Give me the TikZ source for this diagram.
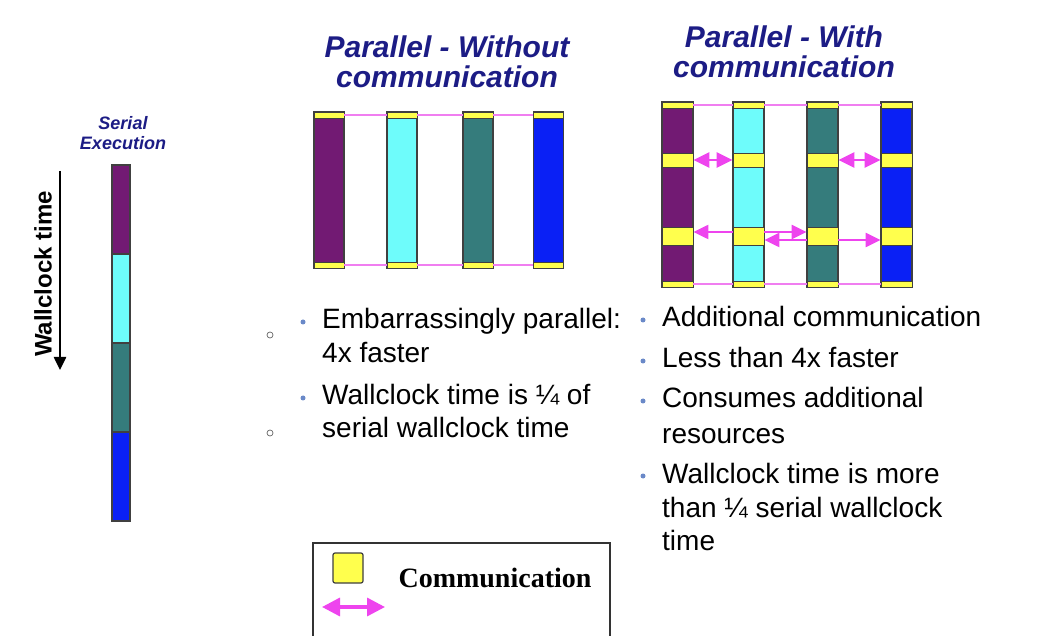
\documentclass[tikz,border=0pt]{standalone}
\usepackage{fontspec}
\setmainfont{Liberation Sans}
\newfontfamily\legendfont{Liberation Serif}
\usetikzlibrary{arrows.meta,positioning}
\definecolor{procA}{HTML}{721A73}
\definecolor{procB}{HTML}{6EFCFB}
\definecolor{procC}{HTML}{357C7C}
\definecolor{procD}{HTML}{0A20F5}
\definecolor{comm}{HTML}{FFFF4D}
\definecolor{msg}{HTML}{EE44EE}
\definecolor{msgline}{HTML}{F07EF0}
\definecolor{navy}{HTML}{1C1C85}
\definecolor{dot}{HTML}{6A89C8}
\tikzset{
  bar/.style={draw=black!75, line width=1.3pt, inner sep=0pt, minimum width=30pt},
  band/.style={fill=comm, draw=black!75, line width=0.9pt, inner sep=0pt, minimum width=30pt},
  sync/.style={draw=msgline, line width=1.8pt},
  msgarrow/.style={draw=msg, line width=2.4pt, -{Triangle[length=15pt,width=14pt]}},
  dblarrow/.style={draw=msg, line width=2.6pt, {Triangle[length=16pt,width=15pt]}-{Triangle[length=16pt,width=15pt]}},
  title/.style={text=navy, align=center, font=\fontsize{30}{30}\selectfont\bfseries\itshape},
  item/.style={anchor=base west, inner sep=0pt, font=\fontsize{28}{33}\selectfont},
  bul/.style={circle, fill=dot, inner sep=0pt, minimum size=5pt},
  hollow/.style={circle, draw=black!60, line width=0.7pt, inner sep=0pt, minimum size=6pt}
}
\begin{document}
\begin{tikzpicture}[x=1pt,y=-1pt]
  \useasboundingbox[fill=white] (0,0) rectangle (1045,636);

  % serial execution
  \node[title, font=\fontsize{18}{20}\selectfont\bfseries\itshape] (stitle) at (123,133) {Serial\\Execution};
  \node[bar, fill=procA, minimum width=18pt, minimum height=89pt] (s1) at (121,209.5) {};
  \node[bar, fill=procB, minimum width=18pt, minimum height=89pt] (s2) at (121,298.5) {};
  \node[bar, fill=procC, minimum width=18pt, minimum height=89pt] (s3) at (121,387.5) {};
  \node[bar, fill=procD, minimum width=18pt, minimum height=89pt] (s4) at (121,476.5) {};

  \coordinate (wtop) at (60,171);
  \coordinate (wbot) at (60,370);
  \draw[line width=2.5pt, -{Triangle[length=13pt,width=12pt]}] (wtop) -- (wbot);
  \node[rotate=90, font=\fontsize{24}{26}\selectfont\bfseries] (wlabel) at (43,274) {Wallclock time};

  % parallel without communication
  \node[title] (wotitle) at (447,62) {Parallel - Without\\communication};
  \node[bar, fill=procA, minimum height=156pt] (a1) at (329,190) {};
  \node[bar, fill=procB, minimum height=156pt] (a2) at (402,190) {};
  \node[bar, fill=procC, minimum height=156pt] (a3) at (478,190) {};
  \node[bar, fill=procD, minimum height=156pt] (a4) at (548.5,190) {};
  \foreach \i/\x in {1/329,2/402,3/478,4/548.5} {
    \node[band, minimum height=6pt] (at\i) at (\x,115) {};
    \node[band, minimum height=6pt] (ab\i) at (\x,265) {};
  }
  \draw[sync] (at1.east) -- (at2.west) (at2.east) -- (at3.west) (at3.east) -- (at4.west);
  \draw[sync] (ab1.east) -- (ab2.west) (ab2.east) -- (ab3.west) (ab3.east) -- (ab4.west);

  % parallel with communication
  \node[title] (wititle) at (784,52) {Parallel - With\\communication};
  \node[bar, fill=procA, minimum width=31pt, minimum height=185pt] (b1) at (677.5,194.5) {};
  \node[bar, fill=procB, minimum width=31pt, minimum height=185pt] (b2) at (748.5,194.5) {};
  \node[bar, fill=procC, minimum width=31pt, minimum height=185pt] (b3) at (822.5,194.5) {};
  \node[bar, fill=procD, minimum width=31pt, minimum height=185pt] (b4) at (896.5,194.5) {};
  \foreach \i/\x in {1/677.5,2/748.5,3/822.5,4/896.5} {
    \node[band, minimum width=31pt, minimum height=6pt] (bt\i) at (\x,105) {};
    \node[band, minimum width=31pt, minimum height=6pt] (bb\i) at (\x,284) {};
    \node[band, minimum width=31pt, minimum height=14pt] (bm\i) at (\x,160) {};
    \node[band, minimum width=31pt, minimum height=18pt] (bl\i) at (\x,236) {};
  }
  \draw[sync] (bt1.east) -- (bt2.west) (bt2.east) -- (bt3.west) (bt3.east) -- (bt4.west);
  \draw[sync] (bb1.east) -- (bb2.west) (bb2.east) -- (bb3.west) (bb3.east) -- (bb4.west);
  \draw[dblarrow] (bm1.east) -- (bm2.west);
  \draw[dblarrow] (bm3.east) -- (bm4.west);
  \draw[msgarrow] ([yshift=4pt]bl2.west) -- ([yshift=4pt]bl1.east);
  \draw[msgarrow] ([yshift=4pt]bl2.east) -- ([yshift=4pt]bl3.west);
  \draw[msgarrow] ([yshift=-4pt]bl3.west) -- ([yshift=-4pt]bl2.east);
  \draw[msgarrow] ([yshift=-4pt]bl3.east) -- ([yshift=-4pt]bl4.west);

  % bullet texts
  \node[hollow] (o1) at (270,335) {};
  \node[hollow] (o2) at (270,433) {};
  \node[item] (wo1) at (322,329) {Embarrassingly parallel:};
  \node[item] (wo1b) at (322,363) {4x faster};
  \node[item] (wo2) at (322,405) {Wallclock time is ¼ of};
  \node[item] (wo2b) at (322,438) {serial wallclock time};
  \node[item] (wi1) at (662,327) {Additional communication};
  \node[item] (wi2) at (662,368) {Less than 4x faster};
  \node[item] (wi3) at (662,408) {Consumes additional};
  \node[item] (wi3b) at (662,443) {resources};
  \node[item] (wi4) at (662,483) {Wallclock time is more};
  \node[item] (wi4b) at (662,517) {than ¼ serial wallclock};
  \node[item] (wi4c) at (662,550) {time};
  \foreach \n in {wo1,wo2,wi1,wi2,wi3,wi4}
    \node[bul] at ([xshift=-19pt,yshift=7pt]\n.base west) {};

  % legend
  \coordinate (lg1) at (313,636);
  \coordinate (lg2) at (313,543);
  \coordinate (lg3) at (610,543);
  \coordinate (lg4) at (610,636);
  \draw[black!80, line width=1.2pt] (lg1) -- (lg2) -- (lg3) -- (lg4);
  \node[band, minimum width=30pt, minimum height=30pt, rounded corners=2pt, line width=1.2pt] (lsq) at (348,568) {};
  \coordinate (la) at (322,607);
  \coordinate (lb) at (385,607);
  \draw[draw=msg, line width=3.4pt, {Triangle[length=18pt,width=18pt]}-{Triangle[length=18pt,width=18pt]}] (la) -- (lb);
  \node[font=\legendfont\fontsize{28}{30}\selectfont\bfseries] (lcomm) at (495,578) {Communication};
\end{tikzpicture}
\end{document}
